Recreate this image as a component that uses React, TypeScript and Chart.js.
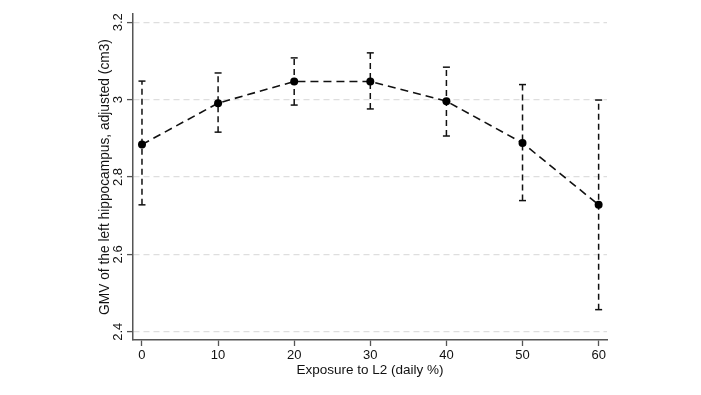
import React, { useEffect, useRef } from "react";
import { Chart, registerables } from "chart.js";

Chart.register(...registerables);

const exposure = [0, 10, 20, 30, 40, 50, 60];
const gmv = [2.884, 2.991, 3.047, 3.047, 2.996, 2.888, 2.728];
const ciLower = [2.728, 2.916, 2.986, 2.976, 2.906, 2.739, 2.457];
const ciUpper = [3.048, 3.069, 3.108, 3.121, 3.084, 3.039, 2.999];
const yTicks = [2.4, 2.6, 2.8, 3.0, 3.2];
const xTicks = [0, 10, 20, 30, 40, 50, 60];
const xTitle = "Exposure to L2 (daily %)";
const yTitle = "GMV of the left hippocampus, adjusted (cm3)";

const FONT = 'Arial, "Liberation Sans", sans-serif';

export default function App() {
  const ref = useRef<HTMLCanvasElement>(null);
  useEffect(() => {
    const canvas = ref.current;
    if (!canvas) return;
    const errorSets = exposure.map((x, i) => ({
      type: "line" as const,
      data: [
        { x, y: ciLower[i] },
        { x, y: ciUpper[i] },
      ],
      borderColor: "#111",
      borderWidth: 1.5,
      borderDash: [6, 4],
      pointStyle: "line" as const,
      pointRadius: 3.5,
      pointBorderColor: "#111",
      pointBorderWidth: 1.5,
      pointBackgroundColor: "#111",
      order: 2,
    }));
    const chart = new Chart(canvas, {
      type: "line",
      data: {
        datasets: [
          {
            data: exposure.map((x, i) => ({ x, y: gmv[i] })),
            borderColor: "#111",
            borderWidth: 1.6,
            borderDash: [8, 5],
            pointRadius: 4,
            pointBackgroundColor: "#000",
            pointBorderColor: "#000",
            pointBorderWidth: 0,
            order: 1,
          },
          ...errorSets,
        ],
      },
      options: {
        responsive: false,
        animation: false,
        events: [],
        layout: { padding: { left: 0, top: 14, right: 94, bottom: 0 } },
        plugins: { legend: { display: false }, tooltip: { enabled: false } },
        scales: {
          x: {
            type: "linear",
            min: -1.18,
            max: 61.1,
            afterBuildTicks: (s: any) => {
              s.ticks = xTicks.map((v) => ({ value: v }));
            },
            afterFit: (s: any) => {
              s.height = 55;
            },
            ticks: {
              color: "#111",
              font: { family: FONT, size: 13 },
              padding: 2,
              maxRotation: 0,
              callback: (v: any) => String(v),
            },
            grid: {
              drawOnChartArea: false,
              drawTicks: true,
              tickLength: 6,
              tickColor: "#555",
              tickWidth: 1.3,
            },
            border: { display: true, color: "#555", width: 1.5 },
            title: {
              display: true,
              text: xTitle,
              color: "#111",
              font: { family: FONT, size: 13.5 },
              padding: { top: 0, bottom: 17 },
            },
          },
          y: {
            type: "linear",
            min: 2.3785,
            max: 3.2215,
            afterBuildTicks: (s: any) => {
              s.ticks = yTicks.map((v) => ({ value: v }));
            },
            afterFit: (s: any) => {
              s.width = 133;
            },
            ticks: {
              color: "#111",
              font: { family: FONT, size: 13 },
              minRotation: 90,
              maxRotation: 90,
              crossAlign: "center",
              padding: 0,
              callback: (v: any) => String(Math.round(v * 10) / 10),
            },
            grid: {
              drawOnChartArea: true,
              drawTicks: true,
              tickLength: 6,
              color: "#dedede",
              lineWidth: 1.2,
              tickColor: "#555",
              tickWidth: 1.3,
              tickBorderDash: [],
            },
            border: { display: true, color: "#555", width: 1.5, dash: [6, 4] },
            title: {
              display: true,
              text: yTitle,
              color: "#111",
              font: { family: FONT, size: 13.75 },
              padding: { top: 97, bottom: 0 },
            },
          },
        },
      },
    });
    return () => chart.destroy();
  }, []);
  return (
    <div style={{ position: "fixed", left: 0, top: 0, width: 701, height: 395, background: "#fff" }}>
      <canvas ref={ref} width={701} height={395} style={{ width: 701, height: 395, display: "block" }} />
    </div>
  );
}
